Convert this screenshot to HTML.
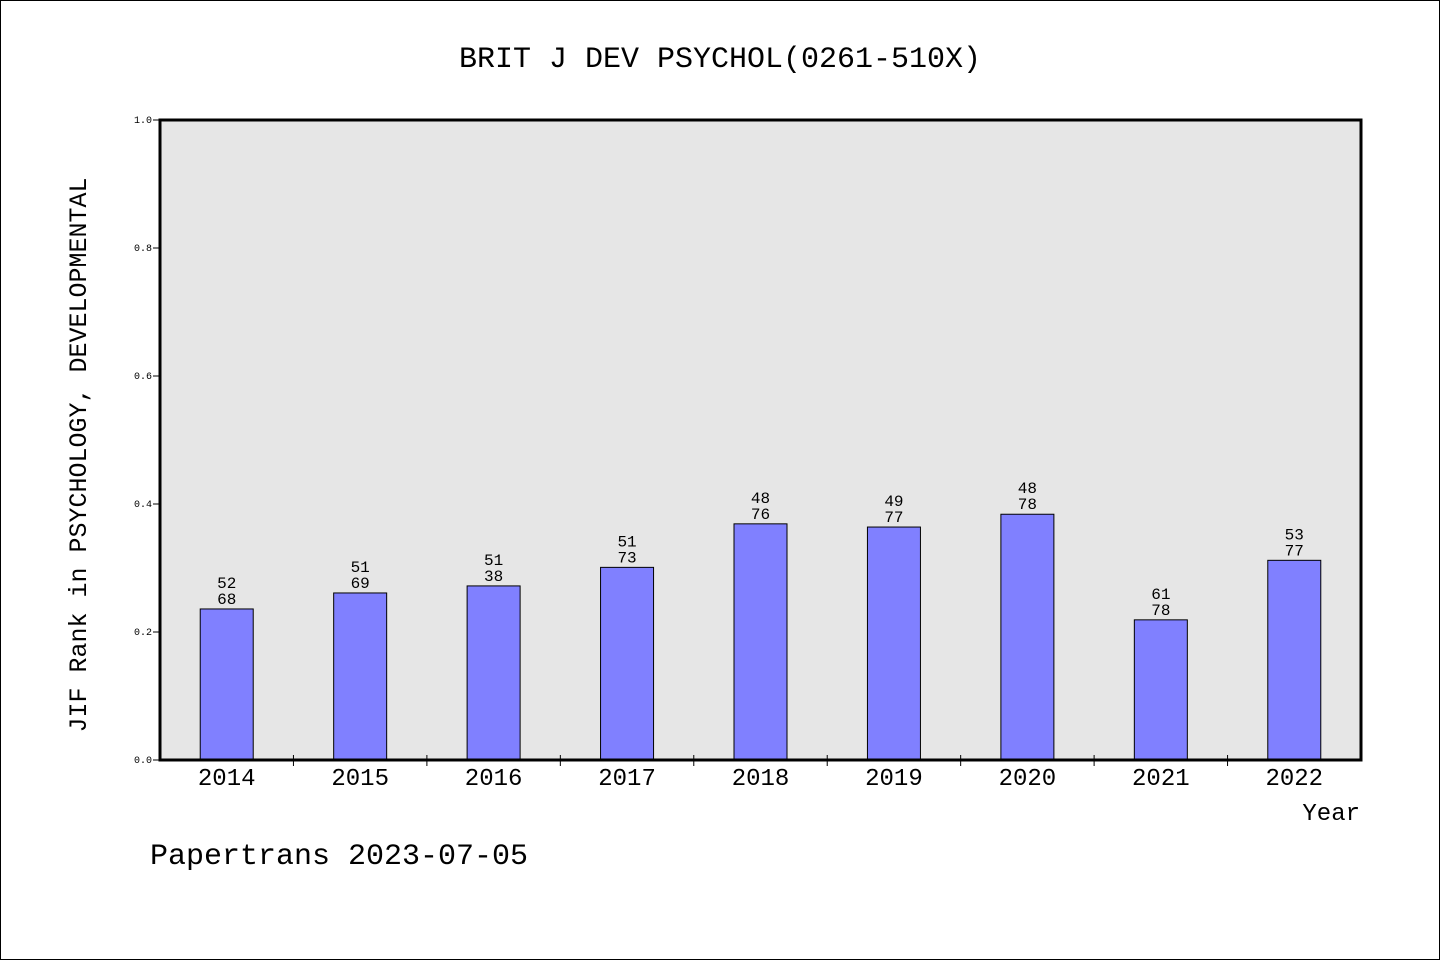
<!DOCTYPE html>
<html><head><meta charset="utf-8"><style>
body{margin:0;background:#fff;}
svg{display:block;}
text{font-family:"Liberation Mono","WenQuanYi Zen Hei",monospace;fill:#000;}
</style></head><body>
<svg id="chart" width="1440" height="960">
<rect x="0.5" y="0.5" width="1439" height="959" fill="#fff" stroke="#000"/>
<text x="720" y="67" text-anchor="middle" font-size="30">BRIT J DEV PSYCHOL(0261-510X)</text>
<rect x="160" y="120" width="1201" height="640" fill="#e6e6e6"/>
<g id="bars"></g>
<rect x="160" y="120" width="1201" height="640" fill="none" stroke="#000" stroke-width="3"/>
<text transform="translate(86,455) rotate(-90)" text-anchor="middle" font-size="25">JIF Rank in PSYCHOLOGY, DEVELOPMENTAL</text>
<text x="1360" y="820" text-anchor="end" font-size="24">Year</text>
<text x="150" y="864" font-size="30">Papertrans 2023-07-05</text>
</svg>
<script>
const categories=["2014","2015","2016","2017","2018","2019","2020","2021","2022"];
const values=[0.236,0.261,0.272,0.301,0.369,0.364,0.384,0.219,0.312];
const ranks=["52","51","51","51","48","49","48","61","53"];
const totals=["68","69","38","73","76","77","78","78","77"];
const yTicks=[0,0.2,0.4,0.6,0.8,1.0];
const X0=160,W=1201,Y0=760,H=640;
const slot=W/categories.length;
const xc=i=>X0+slot*(i+0.5);
const yv=v=>Y0-v*H;
const g=document.getElementById('bars');
const NS="http://www.w3.org/2000/svg";
function mk(t,a){const e=document.createElementNS(NS,t);for(const k in a)e.setAttribute(k,a[k]);return e;}
yTicks.forEach(t=>{
  const l=mk('line',{x1:X0-7,x2:X0,y1:yv(t),y2:yv(t),stroke:'#000'});
  
  
  g.appendChild(l);
  const tx=mk('text',{x:X0-8,y:yv(t)+3,'text-anchor':'end','font-size':'10'});
  tx.textContent=t.toFixed(1);
  
  
  g.appendChild(tx);
});
categories.forEach((c,i)=>{
  const bw=53;
  const r=mk('rect',{x:xc(i)-bw/2,y:yv(values[i]),width:bw,height:Y0-yv(values[i]),fill:'#8080ff',stroke:'#000','stroke-width':1});
  
  
  g.appendChild(r);
  const t1=mk('text',{x:xc(i),y:yv(values[i])-21,'text-anchor':'middle','font-size':'16'});
  t1.textContent=ranks[i];
  
  
  g.appendChild(t1);
  const t2=mk('text',{x:xc(i),y:yv(values[i])-5,'text-anchor':'middle','font-size':'16'});
  t2.textContent=totals[i];
  
  
  g.appendChild(t2);
  const xl=mk('text',{x:xc(i),y:785,'text-anchor':'middle','font-size':'24'});
  xl.textContent=c;
  
  
  g.appendChild(xl);
  if(i>0){
    const tk=mk('line',{x1:X0+slot*i,x2:X0+slot*i,y1:Y0-5,y2:Y0+6,stroke:'#000'});
    
    
    g.appendChild(tk);
  }
});
</script>
</body></html>
